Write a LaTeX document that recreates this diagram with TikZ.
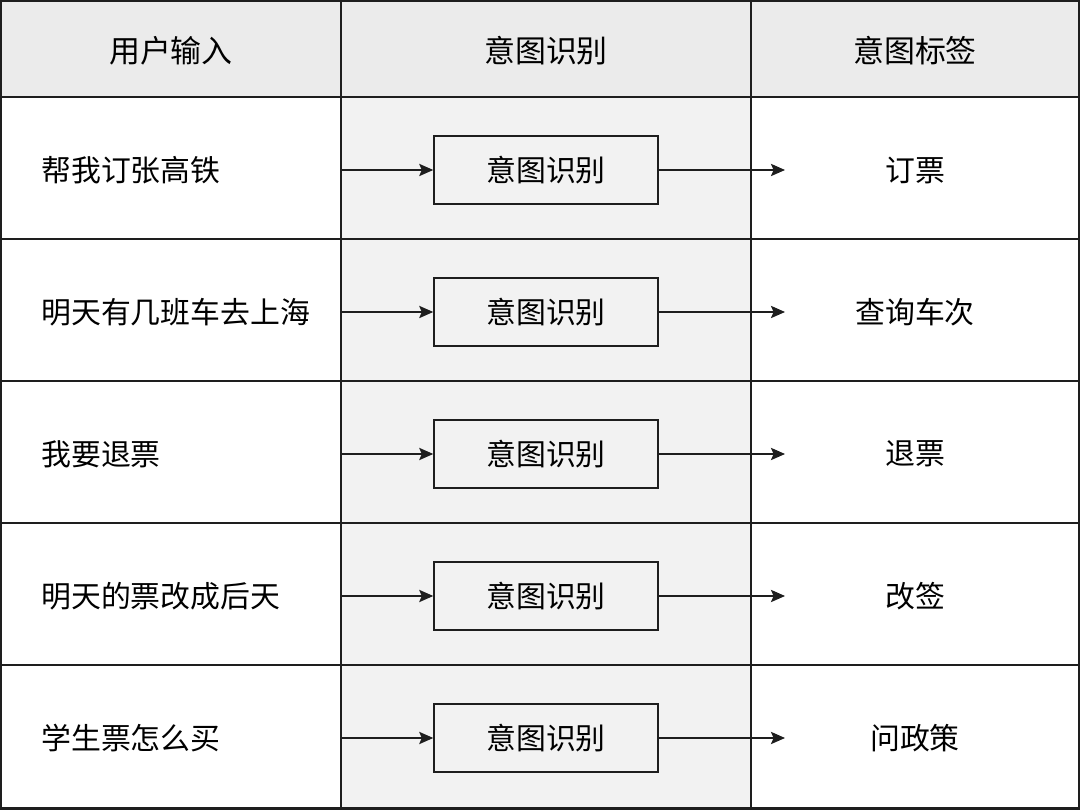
\documentclass[tikz,border=0pt]{standalone}
\usepackage{fontspec}
\setmainfont{Noto Sans CJK SC}
\usetikzlibrary{arrows.meta}
\definecolor{hdr}{HTML}{EBEBEB}
\definecolor{mid}{HTML}{F2F2F2}
\definecolor{ln}{HTML}{1E1E1E}
\tikzset{
  grid/.style={draw=ln, line width=1pt},
  txt/.style={font=\fontsize{17}{20}\selectfont, text=black, inner sep=0pt},
  htxt/.style={font=\fontsize{17.6}{20}\selectfont, text=black, inner sep=0pt},
  ibox/.style={draw=ln, line width=0.9pt, fill=mid, minimum width=4.48cm, minimum height=1.36cm, font=\fontsize{17}{20}\selectfont, inner sep=0pt},
  arr/.style={draw=ln, line width=0.75pt, -{Stealth[length=8pt,width=7pt,inset=1.5pt]}}
}
\begin{document}
\begin{tikzpicture}[x=0.02cm,y=-0.02cm]
\useasboundingbox (0,0) rectangle (1080,810);
% fills
\fill[white] (0,0) rectangle (1080,810);
\fill[hdr] (0,0) rectangle (1080,97);
\fill[mid] (341,97) rectangle (751,808);
% grid
\foreach \y in {97,239,381,523,665} \draw[grid] (0,\y) -- (1080,\y);
\draw[grid] (341,0) -- (341,808);
\draw[grid] (751,0) -- (751,808);
\draw[draw=ln, line width=1.3pt] (0.6,0.6) rectangle (1079.4,808.5);
% header
\node[htxt] (h1) at (171,51) {用户输入};
\node[htxt] (h2) at (546,51) {意图识别};
\node[htxt] (h3) at (915,51) {意图标签};
% rows
\foreach \i/\y/\inp/\lab in {1/170/帮我订张高铁/订票, 2/312/明天有几班车去上海/查询车次, 3/454/我要退票/退票, 4/596/明天的票改成后天/改签, 5/738/学生票怎么买/问政策} {
  \node[txt, anchor=west] (in\i) at (41,\y) {\inp};
  \coordinate (l\i) at (341,\y);
  \node[ibox] (b\i) at (546,\y) {意图识别};
  \coordinate (e\i) at (785,\y);
  \node[txt] (t\i) at (915,\y) {\lab};
  \draw[arr] (l\i) -- (b\i.west);
  \draw[arr] (b\i.east) -- (e\i);
}
\end{tikzpicture}
\end{document}
